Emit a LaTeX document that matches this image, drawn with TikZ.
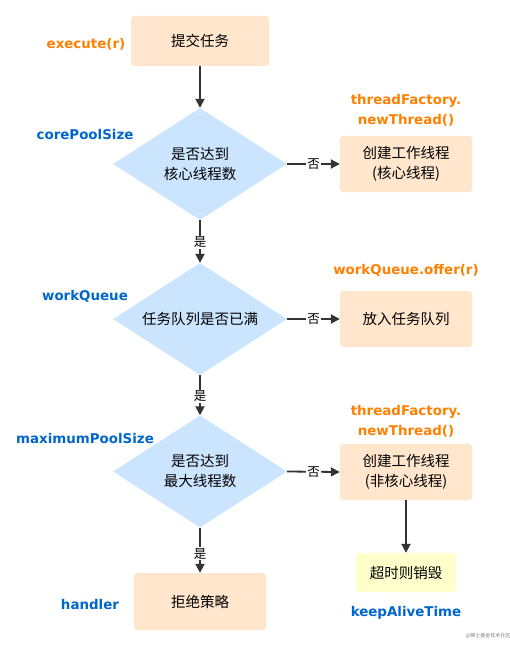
\documentclass[tikz,border=0pt]{standalone}
\usepackage{fontspec}
\setmainfont{Noto Sans CJK SC}
\newfontfamily\labfont{DejaVu Sans}
\usetikzlibrary{shapes.geometric,arrows.meta}
\definecolor{boxfill}{HTML}{FFE6CC}
\definecolor{dfill}{HTML}{CCE5FF}
\definecolor{yfill}{HTML}{FFFFCC}
\definecolor{orng}{HTML}{FF8000}
\definecolor{blu}{HTML}{0066CC}
\definecolor{arrc}{HTML}{333333}
\tikzset{
  box/.style={rectangle, rounded corners=3bp, fill=boxfill, draw=none, minimum width=132bp, minimum height=56bp, align=center, inner sep=0pt, font=\fontsize{14.5bp}{20bp}\selectfont},
  ybox/.style={box, fill=yfill, minimum width=100bp, minimum height=39bp},
  dec/.style={diamond, shape aspect=1.55, fill=dfill, draw=none, minimum width=174bp, minimum height=112bp, inner sep=0pt, align=center, font=\fontsize{14.5bp}{20bp}\selectfont},
  arr/.style={draw=arrc, line width=1.8bp, -{Triangle[length=9bp,width=9bp]}},
  lbl/.style={fill=white, inner sep=1bp, font=\fontsize{12.5bp}{14bp}\selectfont, text=black},
  olab/.style={text=orng, align=center, font=\labfont\bfseries\fontsize{13.4bp}{19.5bp}\selectfont},
  blab/.style={text=blu, font=\labfont\bfseries\fontsize{13.4bp}{16bp}\selectfont},
}
\begin{document}
\begin{tikzpicture}[x=1bp,y=-1bp]
\useasboundingbox[fill=white] (0,0) rectangle (510,652);
\node[box, minimum width=138bp, minimum height=50bp] (submit) at (200,41) {提交任务};
\node[dec] (d1) at (200,164) {是否达到\\核心线程数};
\node[dec] (d2) at (200,319) {任务队列是否已满};
\node[dec] (d3) at (200,471.5) {是否达到\\最大线程数};
\node[box] (b2) at (406,164) {创建工作线程\\(核心线程)};
\node[box] (b3) at (406,319) {放入任务队列};
\node[box] (b4) at (406,472) {创建工作线程\\(非核心线程)};
\node[ybox] (b5) at (406,572.5) {超时则销毁};
\node[box, minimum height=57bp] (b6) at (200,601.5) {拒绝策略};

\node[olab] (l1) at (86,44) {execute(r)};
\node[blab] (l2) at (85,135) {corePoolSize};
\node[blab] (l3) at (85,296) {workQueue};
\node[blab] (l4) at (85,438) {maximumPoolSize};
\node[blab] (l5) at (90,604) {handler};
\node[olab] (l6) at (406,110.5) {threadFactory.\\newThread()};
\node[olab] (l7) at (406,270) {workQueue.offer(r)};
\node[olab] (l8) at (406,421.5) {threadFactory.\\newThread()};
\node[blab] (l9) at (406,613) {keepAliveTime};
\node[text=gray, font=\fontsize{5bp}{6bp}\selectfont] (wm) at (488,636) {@稀土掘金技术社区};

\draw[arr] (submit.south) -- (d1.north);
\draw[arr] (d1.east) -- node[lbl]{否} (b2.west);
\draw[arr] (d1.south) -- node[lbl, pos=0.52]{是} (d2.north);
\draw[arr] (d2.east) -- node[lbl]{否} (b3.west);
\draw[arr] (d2.south) -- node[lbl, pos=0.52]{是} (d3.north);
\draw[arr] (d3.east) -- node[lbl]{否} (b4.west);
\draw[arr] (d3.south) -- node[lbl, pos=0.58]{是} (b6.north);
\draw[arr] (b4.south) -- (b5.north);
\end{tikzpicture}
\end{document}
